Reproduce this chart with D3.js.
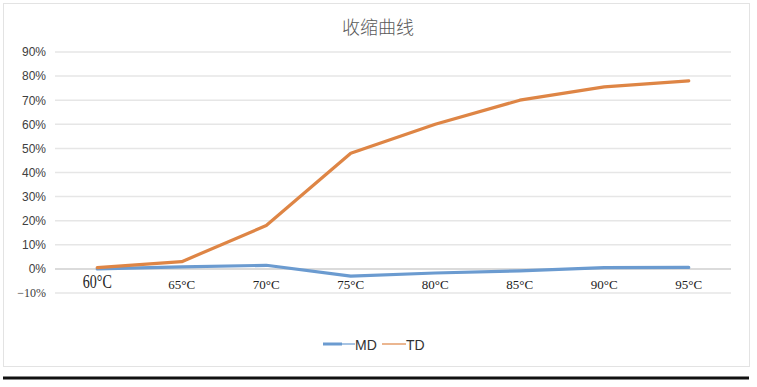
<!DOCTYPE html>
<html>
<head>
<meta charset="utf-8">
<script src="https://cdn.jsdelivr.net/npm/d3@7"></script>
<style>
  body { margin: 0; background: #fff; }
  svg { display: block; }
</style>
</head>
<body>
<div id="chart"></div>
<script>
var canvasWidth = 757;
var canvasHeight = 387;

// data
var temps = ["60°C", "65°C", "70°C", "75°C", "80°C", "85°C", "90°C", "95°C"];
var mdValues = [0.000, 0.008, 0.015, -0.030, -0.017, -0.008, 0.005, 0.006];
var tdValues = [0.005, 0.030, 0.180, 0.480, 0.600, 0.700, 0.755, 0.780];
var yTicks = [-0.1, 0, 0.1, 0.2, 0.3, 0.4, 0.5, 0.6, 0.7, 0.8, 0.9];
var seriesNames = ["MD", "TD"];
var seriesColors = ["#6b9bd0", "#de8545"];

var svg = d3.select("#chart")
    .append("svg")
    .attr("width", canvasWidth)
    .attr("height", canvasHeight);

/*chart frame and the heavy rule under it*/
svg.append("rect")
    .attr("x", 3.5).attr("y", 3.5)
    .attr("width", 746).attr("height", 363)
    .attr("fill", "#fff")
    .attr("stroke", "#e3e3e3");

svg.append("line")
    .attr("x1", 3).attr("x2", 749)
    .attr("y1", 378).attr("y2", 378)
    .attr("stroke", "#111")
    .attr("stroke-width", 3);

svg.append("text")
    .attr("x", 378).attr("y", 34)
    .attr("text-anchor", "middle")
    .attr("font-family", "Noto Sans CJK SC")
    .attr("font-weight", 300)
    .attr("font-size", 18)
    .attr("fill", "#595959")
    .text("收缩曲线");

var xScale = d3.scaleBand().domain(temps).range([55, 731]);
var yScale = d3.scaleLinear().domain([-0.1, 0.9]).range([293, 52]);

/*gridlines*/
svg.append("g")
    .selectAll("line")
    .data(yTicks)
    .join("line")
    .attr("x1", 55).attr("x2", 731)
    .attr("y1", d => yScale(d)).attr("y2", d => yScale(d))
    .attr("stroke", d => d === 0 ? "#cfcfcf" : "#e6e6e6")
    .attr("stroke-width", 1.5);

/*y axis labels*/
var yAxis = d3.axisLeft(yScale)
    .tickValues(yTicks)
    .tickSize(0)
    .tickPadding(9)
    .tickFormat(d3.format(".0%"));

var yg = svg.append("g")
    .attr("transform", "translate(55,0)")
    .call(yAxis);
yg.select(".domain").remove();
yg.selectAll("text")
    .attr("font-family", d => d < 0 ? "Liberation Serif" : "Liberation Sans")
    .attr("font-size", 12)
    .attr("fill", "#404040")
    .text(d => d < 0 ? "−10%" : d3.format(".0%")(d));

/*x axis labels, sitting under the zero line*/
var xAxis = d3.axisBottom(xScale).tickSize(0).tickPadding(10);
var xg = svg.append("g")
    .attr("transform", "translate(0," + yScale(0) + ")")
    .call(xAxis);
xg.select(".domain").remove();
xg.selectAll("text")
    .attr("font-family", "Liberation Serif")
    .attr("font-size", (d, i) => i === 0 ? 18 : 13)
    .attr("dy", (d, i) => i === 0 ? "0.5em" : "0.8em")
    .attr("fill", "#222")
    .attr("transform", (d, i) => i === 0 ? "scale(0.78,1)" : null);

var line = d3.line()
    .x((d, i) => xScale(temps[i]) + xScale.bandwidth() / 2)
    .y(d => yScale(d));

var allSeries = [mdValues, tdValues];
svg.append("g")
    .selectAll(".line")
    .data(allSeries)
    .join("path")
    .attr("class", "line")
    .attr("fill", "none")
    .attr("stroke", (d, i) => seriesColors[i])
    .attr("stroke-width", 3.2)
    .attr("stroke-linejoin", "round")
    .attr("stroke-linecap", "round")
    .attr("d", d => line(d));

/*legend*/
var legend = svg.append("g").attr("transform", "translate(323,344)");
legend.append("line")
    .attr("x1", 0).attr("x2", 19).attr("y1", 0).attr("y2", 0)
    .attr("stroke", seriesColors[0]).attr("stroke-width", 3);
legend.append("line")
    .attr("x1", 19).attr("x2", 32).attr("y1", 0).attr("y2", 0)
    .attr("stroke", seriesColors[0]).attr("stroke-width", 1.2);
legend.append("text")
    .attr("x", 32).attr("y", 5.5)
    .attr("font-family", "Liberation Sans").attr("font-size", 14)
    .attr("fill", "#333").text(seriesNames[0]);
legend.append("line")
    .attr("x1", 59).attr("x2", 83).attr("y1", 0).attr("y2", 0)
    .attr("stroke", seriesColors[1]).attr("stroke-width", 1.2);
legend.append("text")
    .attr("x", 83).attr("y", 5.5)
    .attr("font-family", "Liberation Sans").attr("font-size", 14)
    .attr("fill", "#333").text(seriesNames[1]);
</script>
</body>
</html>
